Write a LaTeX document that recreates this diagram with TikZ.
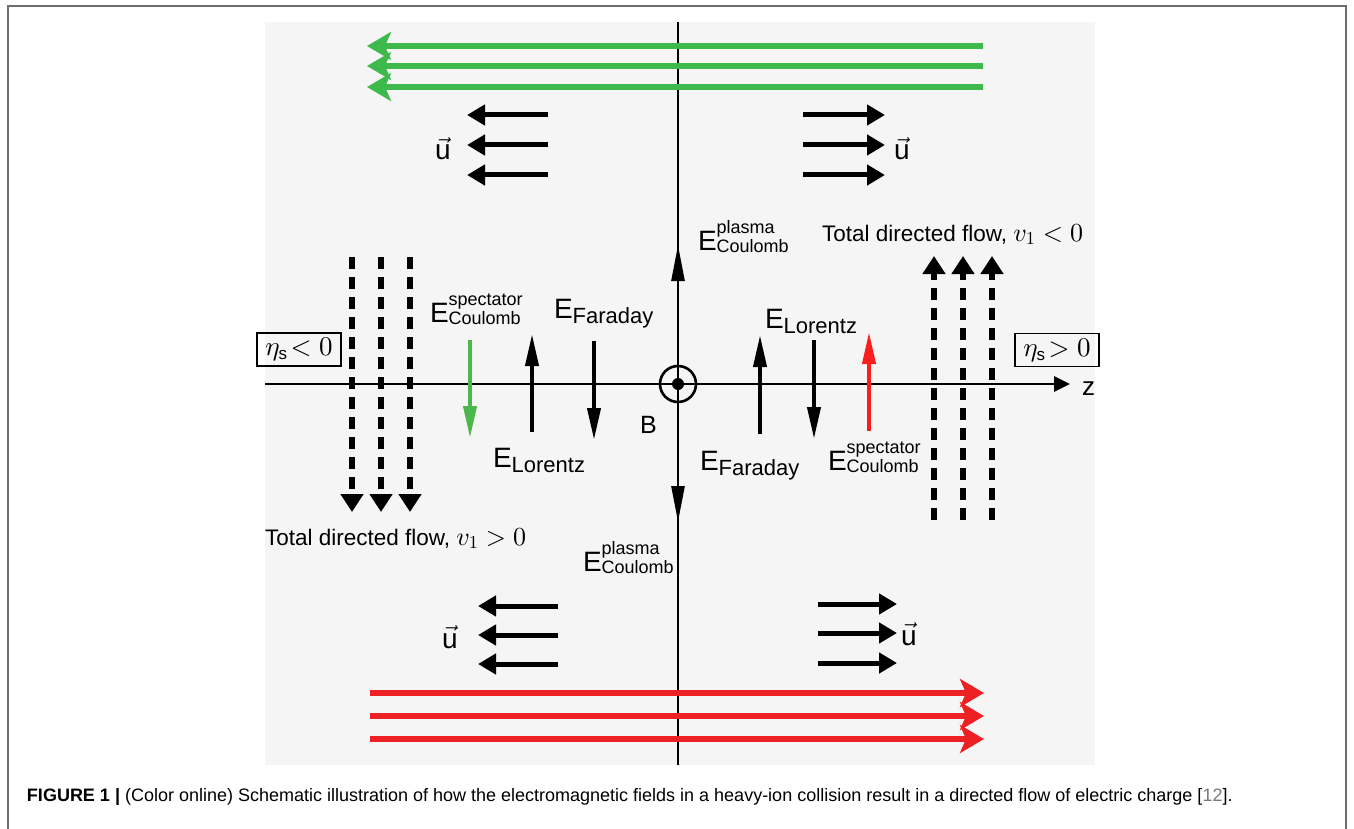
\documentclass[tikz,border=0pt]{standalone}
\usepackage[no-math]{fontspec}
\setmainfont{Liberation Sans}
\DeclareFontShape{OML}{cmm}{m}{it}{<->cmmi10}{\skewchar\font'177}
\DeclareFontShape{OT1}{cmr}{m}{n}{<->cmr10}{}
\DeclareFontShape{OMS}{cmsy}{m}{n}{<->cmsy10}{\skewchar\font'60}
\usetikzlibrary{arrows.meta}
\definecolor{grn}{RGB}{61,186,75}
\definecolor{sgrn}{RGB}{76,184,76}
\definecolor{rd}{RGB}{237,33,36}
\definecolor{srd}{RGB}{250,30,30}
\definecolor{bgc}{RGB}{245,245,245}
\definecolor{frm}{RGB}{110,110,110}
\definecolor{refc}{RGB}{120,120,130}
\newcommand\Esub[1]{{\fontsize{28}{30}\selectfont E}{\fontsize{22}{23}\selectfont\raisebox{-5pt}{#1}}}
\newcommand\Esupsub[2]{{\fontsize{28}{30}\selectfont E}{\fontsize{18}{20}\selectfont\rlap{\raisebox{17pt}{#1}}\raisebox{-2pt}{#2}}}
\newcommand\etas[1]{$\eta_{\hbox{\fontsize{17}{17}\selectfont s}}\!#1 0$}
\newcommand\vone[1]{{\fontsize{26}{28}\selectfont$v_1 #1 0$}}
\begin{document}
\begin{tikzpicture}[x=1pt,y=-1pt,
  lab/.style={anchor=base west,inner sep=0pt,outer sep=0pt},
  axisline/.style={line width=2.6pt},
  axisarr/.style={line width=2.6pt,-{Triangle[length=36pt,width=13pt]}},
  bigarrow/.style={line width=6pt,-{Stealth[length=24pt,width=28pt,inset=6pt]}},
  uarrow/.style={line width=5pt,-{Triangle[length=18pt,width=20pt]}},
  earrow/.style={line width=4pt,-{Triangle[length=32pt,width=13pt]}},
  dasharrow/.style={line width=5.5pt,dash pattern=on 12pt off 8pt,-{Triangle[length=18pt,width=22pt]}},
  etabox/.style={draw,line width=1.2pt,inner sep=0pt,minimum width=84pt,minimum height=33pt,font=\fontsize{27}{28}\selectfont},
  flowtxt/.style={lab,font=\fontsize{22.5}{26}\selectfont},
  ulab/.style={lab,font=\fontsize{28}{28}\selectfont}
]
\useasboundingbox (0,0) rectangle (1354,829);
% frame and background
\coordinate (f1) at (8,829); \coordinate (f2) at (8,6);
\coordinate (f3) at (1346,6); \coordinate (f4) at (1346,829);
\draw[frm,line width=1.4pt] (f1) -- (f2) -- (f3) -- (f4);
\fill[bgc] (265,22) rectangle (1095,765);

% axes
\coordinate (vtop) at (678,22); \coordinate (vbot) at (678,765);
\coordinate (c) at (678,384);
\coordinate (hleft) at (265,384); \coordinate (hright) at (1070,384);
\draw[axisline] (vtop) -- (vbot);
\draw[line width=2.6pt,-{Triangle[length=16pt,width=15pt]}] (hleft) -- (hright);
\coordinate (upTip) at (678,245); \coordinate (dnTip) at (678,522);
\draw[axisarr] (c) -- (upTip);
\draw[axisarr] (c) -- (dnTip);
\node[circle,draw,line width=2.6pt,minimum size=36pt,inner sep=0pt,fill=bgc] (bcirc) at (c) {};
\node[circle,fill=black,minimum size=12pt,inner sep=0pt] (bdot) at (c) {};
\draw[axisline] (bcirc.north) -- (bdot.north);
\draw[axisline] (bcirc.south) -- (bdot.south);
\draw[axisline] (bcirc.west) -- (bdot.west);
\draw[axisline] (bcirc.east) -- (bdot.east);
\node[lab,font=\fontsize{25}{26}\selectfont] (B) at (640,433) {B};
\node[lab,font=\fontsize{26}{26}\selectfont] (z) at (1082,395) {z};

% big green (top) and red (bottom) arrows
\foreach \y [count=\i] in {46,66,87}{
  \coordinate (gs\i) at (983,\y); \coordinate (ge\i) at (367,\y);
  \draw[grn,bigarrow] (gs\i) -- (ge\i);
}
\foreach \y [count=\i] in {693,716,739}{
  \coordinate (rs\i) at (370,\y); \coordinate (re\i) at (984,\y);
  \draw[rd,bigarrow] (rs\i) -- (re\i);
}

% u arrows
\foreach \y [count=\i] in {115,145,175}{
  \coordinate (tls\i) at (548,\y); \coordinate (tle\i) at (467,\y);
  \draw[uarrow] (tls\i) -- (tle\i);
  \coordinate (trs\i) at (803,\y); \coordinate (tre\i) at (885,\y);
  \draw[uarrow] (trs\i) -- (tre\i);
}
\foreach \y [count=\i] in {606,635,664}{
  \coordinate (bls\i) at (558,\y); \coordinate (ble\i) at (478,\y);
  \draw[uarrow] (bls\i) -- (ble\i);
}
\foreach \y [count=\i] in {604,633,663}{
  \coordinate (brs\i) at (818,\y); \coordinate (bre\i) at (897,\y);
  \draw[uarrow] (brs\i) -- (bre\i);
}
\node[ulab] (uTL) at (435,160) {$\vec{\hbox{u}}$};
\node[ulab] (uTR) at (894,160) {$\vec{\hbox{u}}$};
\node[ulab] (uBL) at (442,648) {$\vec{\hbox{u}}$};
\node[ulab] (uBR) at (901,645) {$\vec{\hbox{u}}$};

% dashed flow arrows
\foreach \x [count=\i] in {352,381,410}{
  \coordinate (dls\i) at (\x,257); \coordinate (dle\i) at (\x,512);
  \draw[dasharrow] (dls\i) -- (dle\i);
}
\foreach \x [count=\i] in {934,963,992}{
  \coordinate (drs\i) at (\x,520); \coordinate (dre\i) at (\x,256);
  \draw[dasharrow] (drs\i) -- (dre\i);
}
\node[flowtxt] (tfL) at (265,545) {Total directed flow, \vone{>}};
\node[flowtxt] (tfR) at (822,241) {Total directed flow, \vone{<}};

% eta boxes
\node[etabox] (etaL) at (299,349.5) {\etas{<}};
\node[etabox] (etaR) at (1057,350) {\etas{>}};

% small field arrows
\coordinate (g1) at (470,340); \coordinate (g2) at (470,438);
\draw[sgrn,earrow] (g1) -- (g2);
\coordinate (a1) at (532,432); \coordinate (a2) at (532,334);
\draw[earrow] (a1) -- (a2);
\coordinate (a3) at (594,341); \coordinate (a4) at (594,440);
\draw[earrow] (a3) -- (a4);
\coordinate (a5) at (760,434); \coordinate (a6) at (760,335);
\draw[earrow] (a5) -- (a6);
\coordinate (a7) at (814,340); \coordinate (a8) at (814,439);
\draw[earrow] (a7) -- (a8);
\coordinate (r1) at (869,431); \coordinate (r2) at (869,332);
\draw[srd,earrow] (r1) -- (r2);

% field labels
\node[lab] (eSpL) at (430,322) {\Esupsub{spectator}{Coulomb}};
\node[lab] (eFarL) at (554,318) {\Esub{Faraday}};
\node[lab] (eLorL) at (493,467) {\Esub{Lorentz}};
\node[lab] (ePlU) at (698,250) {\Esupsub{plasma}{Coulomb}};
\node[lab] (eLorR) at (765,328) {\Esub{Lorentz}};
\node[lab] (eFarR) at (700,470) {\Esub{Faraday}};
\node[lab] (eSpR) at (828,470) {\Esupsub{spectator}{Coulomb}};
\node[lab] (ePlD) at (583,571) {\Esupsub{plasma}{Coulomb}};

% caption
\node[lab,font=\fontsize{18}{21}\selectfont] (cap) at (27,801) {\textbf{FIGURE 1 |} (Color online) Schematic illustration of how the electromagnetic fields in a heavy-ion collision result in a directed flow of electric charge [\textcolor{refc}{12}].};
\end{tikzpicture}
\end{document}
